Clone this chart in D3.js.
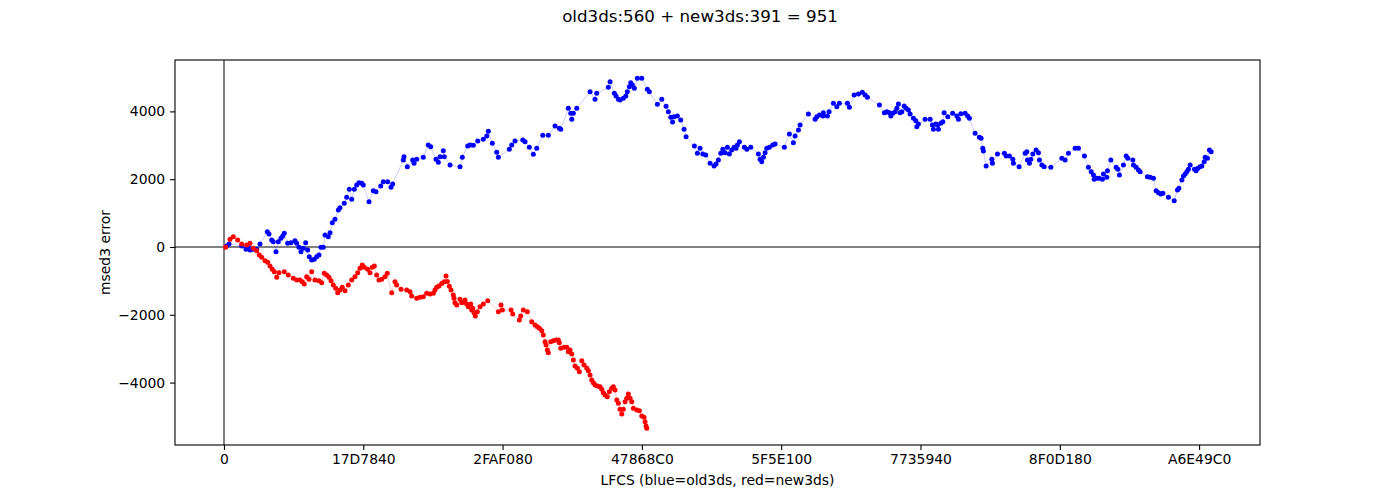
<!DOCTYPE html>
<html lang="en">
<head>
    <meta charset="UTF-8">
    <title>msed3 error</title>
    <script src="https://d3js.org/d3.v7.min.js"></script>
    <style>
        body {
            margin: 0;
            background: #fff;
        }

        svg {
            display: block;
        }

        text {
            font-family: "DejaVu Sans", sans-serif;
            fill: #000;
        }

        .tick text {
            font-size: 13.9px;
        }

        .domain {
            display: none;
        }

        .tick line {
            stroke: #000;
            stroke-width: 1.1px;
        }

        .zero {
            stroke: #808080;
            stroke-width: 2px;
            shape-rendering: crispEdges;
        }
    </style>
</head>

<body>
<svg id="chart" width="1400" height="500"></svg>

<script>
    // [LFCS in millions, msed3 error]
    const old3ds = [
        [0.48,30],[0.90,89],[3.18,30],[3.95,-68],[4.36,-9],[4.67,-89],[5.26,-68],[5.87,-68],[6.46,89],[7.77,451],
        [8.08,384],[8.56,207],[8.85,156],[9.33,-139],[9.75,156],[10.23,257],[10.54,325],[10.82,404],[11.43,109],[12.03,127],
        [12.74,186],[13.05,109],[13.46,-9],[13.82,-139],[14.23,-38],[14.66,127],[15.02,-89],[15.31,-286],[15.74,-384],[16.21,-363],
        [16.64,-286],[17.05,-236],[17.41,-9],[17.82,-9],[18.13,354],[18.72,304],[19.03,422],[19.44,717],[19.92,817],[20.52,1092],
        [20.82,1159],[21.59,1289],[22.02,1466],[22.49,1702],[22.92,1407],[23.39,1702],[23.82,1829],[24.23,1897],[24.72,1879],[25.00,1829],
        [26.03,1336],[26.80,1661],[27.28,1631],[28.13,1800],[28.59,1926],[29.38,1926],[29.98,1761],[30.28,1859],[32.18,2567],[32.31,2664],
        [32.90,2369],[33.87,2567],[34.11,2469],[34.59,2587],[35.77,2646],[36.67,3009],[37.10,2959],[38.05,2587],[38.47,2499],[38.77,2664],
        [39.36,2841],[39.54,2664],[40.57,2419],[42.36,2369],[42.77,2646],[43.74,2980],[44.16,3009],[44.75,3000],[45.54,3127],[46.54,3177],
        [47.16,3275],[47.44,3413],[48.16,3059],[48.95,2794],[49.24,2646],[51.21,2882],[51.64,3009],[52.23,3127],[53.62,3157],[54.03,3106],
        [54.80,2941],[55.52,2735],[56.13,2912],[57.21,3295],[58.21,3295],[59.41,3570],[60.19,3502],[60.44,3472],[61.80,4092],[62.23,3944],
        [62.41,3767],[62.70,3944],[63.31,4092],[65.70,4581],[66.59,4357],[66.90,4534],[68.98,4711],[69.29,4876],[70.06,4534],[70.36,4455],
        [70.78,4357],[71.08,4337],[71.67,4387],[72.11,4455],[72.39,4581],[72.75,4729],[73.00,4847],[73.29,4779],[73.65,4682],[74.19,4977],
        [74.98,4977],[75.98,4652],[76.34,4581],[77.78,4210],[78.57,4357],[79.34,4151],[79.75,3991],[80.18,3826],[80.51,3688],[80.78,3844],
        [81.37,3865],[81.98,3747],[82.57,3472],[82.93,3254],[84.42,2980],[84.96,2764],[85.44,2912],[85.93,2744],[86.46,2714],[87.24,2469],
        [87.96,2390],[88.31,2449],[88.73,2567],[89.16,2764],[89.52,2882],[89.93,2782],[90.34,2941],[90.70,2744],[91.13,2862],[91.55,2941],
        [91.90,2912],[92.14,3009],[92.50,3106],[93.40,2941],[93.83,2882],[94.54,2941],[95.91,2744],[96.21,2587],[96.52,2516],[96.81,2646],
        [97.11,2782],[97.41,2912],[97.88,2941],[98.49,3009],[98.90,3039],[100.57,2941],[101.47,3334],[102.19,3077],[102.49,3275],[103.09,3452],
        [103.39,3599],[104.88,3924],[106.09,3767],[106.39,3844],[106.86,3894],[107.47,3865],[107.57,3962],[108.29,3865],[108.60,3991],[109.37,4239],
        [109.98,4139],[110.45,4239],[111.88,4239],[112.24,4121],[113.09,4484],[113.86,4514],[114.57,4564],[115.06,4484],[115.47,4416],[117.63,4189],
        [118.52,3962],[118.96,3991],[119.42,3962],[119.68,3865],[120.03,3944],[120.45,3991],[120.75,4092],[121.04,4219],[121.34,3962],[121.65,3991],
        [122.06,4160],[122.42,4092],[122.83,4042],[123.14,3924],[123.73,3797],[124.16,3726],[124.34,3549],[124.63,3629],[125.83,3767],[126.73,3767],
        [127.14,3599],[127.32,3472],[127.75,3629],[128.04,3599],[128.22,3472],[128.65,3649],[129.01,3696],[129.24,3962],[129.90,3844],[130.77,3944],
        [131.52,3865],[131.81,3767],[132.24,3932],[133.01,3944],[133.46,3865],[133.78,3797],[134.80,3354],[135.57,3236],[135.88,3207],[136.18,2912],
        [136.29,2832],[136.78,2390],[137.80,2587],[137.91,2469],[138.81,2744],[140.06,2764],[140.37,2685],[140.96,2685],[141.57,2587],[141.68,2469],
        [142.70,2369],[143.78,2764],[144.08,2811],[144.19,2567],[144.55,2469],[144.80,2587],[145.16,2744],[145.75,2862],[146.17,2782],[146.35,2567],
        [146.78,2419],[147.19,2369],[148.39,2351],[150.37,2617],[150.96,2567],[151.55,2764],[152.75,2912],[153.35,2912],[154.42,2685],[155.14,2351],
        [155.63,2221],[156.04,2124],[156.17,1997],[156.65,2027],[157.06,2027],[157.65,1997],[157.83,2154],[158.44,2056],[158.55,2251],[159.16,2567],
        [160.11,2351],[160.42,2292],[160.70,2124],[161.42,2419],[161.91,2685],[162.21,2617],[163.11,2567],[163.22,2419],[163.70,2351],[164.12,2272],
        [164.42,2221],[165.73,2074],[166.22,2056],[166.81,2027],[167.29,1661],[167.71,1602],[168.14,1564],[168.50,1584],[169.50,1466],[170.53,1366],
        [171.12,1682],[171.37,1732],[171.91,1977],[172.19,2095],[172.50,2154],[172.80,2221],[173.09,2292],[173.40,2419],[174.17,2292],[174.47,2251],
        [174.78,2322],[175.19,2369],[175.49,2390],[175.91,2516],[176.09,2646],[176.50,2617],[176.86,2862],[177.17,2811]
    ];

    const new3ds = [
        [0.31,-9],[1.08,227],[1.67,304],[2.46,207],[3.18,89],[4.07,59],[4.67,109],[5.26,-38],[5.87,-109],[6.34,-236],
        [6.77,-304],[7.36,-404],[7.84,-451],[8.26,-561],[8.67,-658],[9.03,-729],[9.46,-894],[9.87,-758],[10.82,-729],[11.54,-826],
        [12.44,-923],[13.05,-973],[13.64,-973],[14.05,-1024],[14.41,-1092],[14.84,-876],[15.26,-953],[15.74,-729],[16.33,-973],[17.05,-994],
        [17.54,-1053],[18.00,-776],[18.43,-826],[18.85,-894],[19.21,-994],[19.62,-1121],[20.05,-1218],[20.41,-1348],[20.82,-1269],[21.23,-1189],
        [21.72,-1289],[22.31,-1121],[22.92,-973],[23.51,-876],[24.00,-758],[24.41,-628],[24.82,-531],[25.18,-599],[25.79,-658],[26.21,-758],
        [26.62,-599],[26.98,-561],[27.41,-826],[27.82,-973],[28.31,-953],[28.90,-876],[29.31,-776],[30.10,-1348],[30.69,-1024],[31.00,-1121],
        [31.77,-1248],[32.79,-1269],[33.39,-1319],[33.69,-1446],[34.59,-1513],[35.18,-1484],[35.77,-1466],[36.38,-1366],[36.98,-1387],[37.57,-1366],
        [37.87,-1269],[38.18,-1189],[38.59,-1151],[39.08,-1077],[39.54,-1024],[39.85,-856],[40.08,-1018],[40.44,-1159],[40.75,-1269],[41.16,-1416],
        [41.29,-1513],[41.46,-1643],[41.77,-1711],[42.36,-1543],[42.67,-1643],[42.96,-1631],[43.26,-1564],[43.56,-1682],[43.85,-1761],[44.28,-1682],
        [44.46,-1859],[44.64,-1808],[44.88,-1938],[45.11,-2036],[45.47,-1909],[45.95,-1761],[46.54,-1682],[47.33,-1584],[49.24,-1909],[49.72,-1711],
        [49.96,-1859],[51.52,-1859],[51.82,-1977],[53.01,-2154],[53.26,-2036],[53.72,-1859],[54.44,-1909],[55.23,-2204],[55.82,-2301],[56.24,-2351],
        [56.60,-2398],[57.03,-2469],[57.31,-2596],[57.62,-2794],[57.80,-2891],[58.03,-3039],[58.21,-3118],[58.64,-2794],[59.11,-2764],[59.59,-2744],
        [60.01,-2744],[60.19,-2823],[60.44,-2988],[61.03,-2959],[61.52,-2959],[61.80,-3089],[62.11,-3039],[62.41,-3157],[62.70,-3334],[63.00,-3511],
        [63.42,-3578],[63.78,-3679],[64.21,-3354],[64.62,-3481],[65.11,-3578],[65.39,-3649],[65.70,-3776],[66.00,-3924],[66.29,-4003],[66.59,-4071],
        [67.01,-4101],[67.49,-4121],[67.80,-4198],[68.08,-4298],[68.39,-4366],[68.80,-4416],[69.16,-4269],[69.59,-4168],[69.88,-4121],[70.18,-4219],
        [70.49,-4514],[70.78,-4611],[71.08,-4788],[71.39,-4927],[71.67,-4788],[71.98,-4564],[72.28,-4463],[72.57,-4337],[72.88,-4463],[73.18,-4564],
        [73.47,-4758],[74.08,-4809],[74.55,-4829],[74.98,-4986],[75.39,-5024],[75.57,-5154],[75.75,-5281],[75.88,-5348]
    ];

    const oldCount = 560, newCount = 391;
    const xTicks = [0, 25, 50, 75, 100, 125, 150, 175]; // millions, shown in hex
    const yTicks = [-4000, -2000, 0, 2000, 4000];

    // plot area, same box as the original figure
    const plotLeft = 175, plotRight = 1260, plotTop = 60, plotBottom = 445;

    const x = d3.scaleLinear().domain([-8.79, 185.93]).range([plotLeft, plotRight]);
    const y = d3.scaleLinear().domain([-5841, 5516]).range([plotBottom, plotTop]);

    const svg = d3.select("#chart");

    svg.append("defs").append("clipPath").attr("id", "plotClip")
        .append("rect")
        .attr("x", plotLeft).attr("y", plotTop)
        .attr("width", plotRight - plotLeft).attr("height", plotBottom - plotTop);

    // title
    svg.append("text")
        .attr("x", 700)
        .attr("y", 22)
        .attr("text-anchor", "middle")
        .style("font-size", "16.7px")
        .text(`old3ds:${oldCount} + new3ds:${newCount} = ${oldCount + newCount}`);

    // zero lines
    svg.append("line")
        .attr("class", "zero")
        .attr("x1", plotLeft).attr("x2", plotRight)
        .attr("y1", Math.round(y(0))).attr("y2", Math.round(y(0)));
    svg.append("line")
        .attr("class", "zero")
        .attr("x1", Math.round(x(0))).attr("x2", Math.round(x(0)))
        .attr("y1", plotTop).attr("y2", plotBottom);

    const plot = svg.append("g").attr("clip-path", "url(#plotClip)");

    const line = d3.line().x(d => x(d[0])).y(d => y(d[1]));

    function drawSeries(data, color) {
        plot.append("path")
            .datum(data)
            .attr("d", line)
            .attr("fill", "none")
            .attr("stroke", color)
            .attr("stroke-opacity", 0.3)
            .attr("stroke-width", 0.7);

        plot.append("g")
            .selectAll("circle")
            .data(data)
            .join("circle")
            .attr("cx", d => x(d[0]))
            .attr("cy", d => y(d[1]))
            .attr("r", 2.5)
            .attr("fill", color);
    }

    drawSeries(old3ds, "#0000ff");
    drawSeries(new3ds, "#ff0000");

    // axes
    svg.append("g")
        .attr("transform", `translate(0,${plotBottom})`)
        .call(d3.axisBottom(x)
            .tickValues(xTicks)
            .tickSize(4.9)
            .tickPadding(4.5)
            .tickFormat(d => Math.round(d * 1e6).toString(16).toUpperCase()));

    svg.append("g")
        .attr("transform", `translate(${plotLeft},0)`)
        .call(d3.axisLeft(y)
            .tickValues(yTicks)
            .tickSize(4.9)
            .tickPadding(4.9)
            .tickFormat(d3.format("d")));

    svg.selectAll(".tick text").attr("font-family", null).attr("font-size", null);

    // frame
    svg.append("rect")
        .attr("x", plotLeft).attr("y", plotTop)
        .attr("width", plotRight - plotLeft).attr("height", plotBottom - plotTop)
        .attr("fill", "none")
        .attr("stroke", "#000")
        .attr("stroke-width", 1.1);

    // axis labels
    svg.append("text")
        .attr("x", (plotLeft + plotRight) / 2)
        .attr("y", 485)
        .attr("text-anchor", "middle")
        .style("font-size", "13.9px")
        .text("LFCS (blue=old3ds, red=new3ds)");

    svg.append("text")
        .attr("transform", `translate(110,${(plotTop + plotBottom) / 2}) rotate(-90)`)
        .attr("text-anchor", "middle")
        .style("font-size", "13.9px")
        .text("msed3 error");
</script>
</body>
</html>
